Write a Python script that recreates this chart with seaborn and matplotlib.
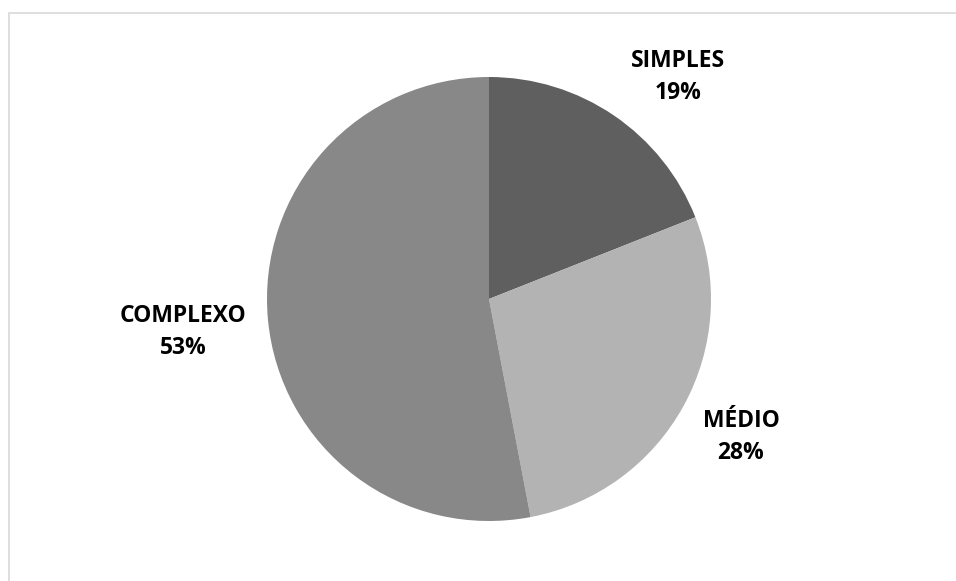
import matplotlib
matplotlib.use('Agg')
import matplotlib.pyplot as plt
import seaborn as sns
from matplotlib.lines import Line2D

sns.set_theme(style='white')
plt.rcParams['font.family'] = ['Open Sans', 'DejaVu Sans']

# Data
categories = ['SIMPLES', 'MÉDIO', 'COMPLEXO']
percentages = [19, 28, 53]
colors = ['#5f5f5f', '#b3b3b3', '#888888']

W, H = 956, 581
fig = plt.figure(figsize=(W / 100, H / 100), dpi=100)
ax = fig.add_axes([0, 0, 1, 1])

cx, cy, r = 489, H - 299, 222
ax.pie(percentages, colors=colors, startangle=90, counterclock=False,
       center=(cx, cy), radius=r, frame=True,
       wedgeprops={'linewidth': 0})
ax.set_xlim(0, W)
ax.set_ylim(0, H)
ax.set_aspect('equal')
ax.axis('off')

# Outside labels (pixel positions of label centers)
label_pos = {'SIMPLES': (678, 77), 'MÉDIO': (741, 437), 'COMPLEXO': (183, 332)}
for cat, pct in zip(categories, percentages):
    x, y = label_pos[cat]
    ax.text(x, H - y, f'{cat}\n{pct}%', ha='center', va='center',
            fontsize=16.5, fontweight='bold', color='black', linespacing=1.4)

# Chart frame (only top and left edges visible)
fig.add_artist(Line2D([8.5 / W, 1], [1 - 12.5 / H, 1 - 12.5 / H],
                      transform=fig.transFigure, color='#d9d9d9', lw=1.2))
fig.add_artist(Line2D([8.5 / W, 8.5 / W], [0, 1 - 12.5 / H],
                      transform=fig.transFigure, color='#d9d9d9', lw=1.2))

plt.savefig('out.png', dpi=100)
plt.close(fig)
